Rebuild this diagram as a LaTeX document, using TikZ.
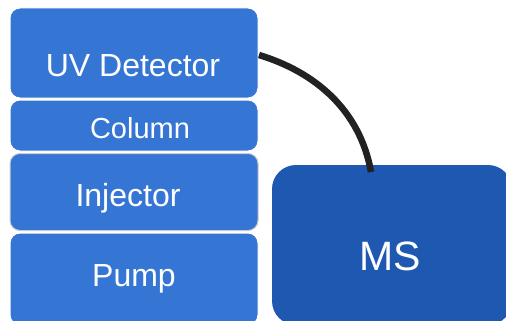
\documentclass[tikz,border=0pt]{standalone}
\usepackage{fontspec}
\setmainfont{Liberation Sans}
\definecolor{stackblue}{HTML}{3576D5}
\definecolor{msblue}{HTML}{1F58B0}
\definecolor{tubing}{HTML}{222222}
\begin{document}
\begin{tikzpicture}[x=1pt,y=-1pt,
  part/.style={draw=white, line width=1pt, fill=stackblue, rounded corners=10pt,
    inner sep=0pt, minimum width=248pt},
  lbl/.style={text=white, inner sep=0pt, anchor=base},
  msbox/.style={fill=msblue, rounded corners=24pt, inner sep=0pt,
    minimum width=240pt, minimum height=160pt}]
  \useasboundingbox (0,0) rectangle (506,321);
  % LC stack
  \node[part, minimum height=90pt] (uv) at (134,53) {};
  \node[part, minimum height=51pt] (col) at (134,125.5) {};
  \node[part, draw=black!20, minimum height=77pt] (inj) at (134,192) {};
  \node[part, minimum height=92pt] (pump) at (134,279) {};
  \node[lbl, font=\fontsize{32}{32}\selectfont] (uvt) at (133,77) {UV Detector};
  \node[lbl, font=\fontsize{29}{29}\selectfont] (colt) at (140,138) {Column};
  \node[lbl, font=\fontsize{32}{32}\selectfont] (injt) at (128,206) {Injector};
  \node[lbl, font=\fontsize{32}{32}\selectfont] (pumpt) at (134,286) {Pump};
  % mass spectrometer
  \node[msbox] (ms) at (392,245) {};
  \node[lbl, font=\fontsize{41}{41}\selectfont] (mst) at (390,270) {MS};
  % transfer line
  \coordinate (a) at (259,55);
  \coordinate (b) at (371,172);
  \draw[tubing, line width=6.5pt] (a) .. controls (315,72) and (360,110) .. (b);
\end{tikzpicture}
\end{document}
